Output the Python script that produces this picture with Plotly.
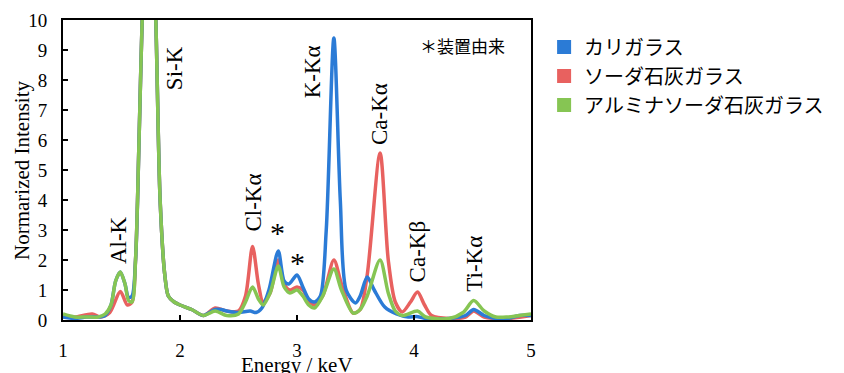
import plotly.graph_objects as go

# Energy (keV) and normalized intensity
kali_x = [1.0, 1.1, 1.2, 1.3, 1.36, 1.41, 1.45, 1.49, 1.53, 1.56, 1.59, 1.62, 1.65, 1.68, 1.735, 1.79, 1.83, 1.87, 1.9, 1.95, 2.0, 2.1, 2.2, 2.3, 2.35, 2.4, 2.5, 2.6, 2.65, 2.7, 2.76, 2.84, 2.89, 2.93, 3.0, 3.05, 3.1, 3.15, 3.2, 3.25, 3.315, 3.37, 3.42, 3.5, 3.54, 3.6, 3.66, 3.75, 3.85, 3.95, 4.02, 4.1, 4.3, 4.44, 4.51, 4.6, 4.7, 4.8, 4.9, 5.0]
kali_y = [0.1, 0.05, 0.1, 0.1, 0.15, 0.5, 1.3, 1.6, 1.2, 0.75, 0.8, 2.0, 6.0, 10.5, 16.0, 10.5, 4.0, 1.5, 0.8, 0.6, 0.5, 0.35, 0.15, 0.35, 0.35, 0.3, 0.25, 0.3, 0.25, 0.4, 1.0, 2.3, 1.3, 1.2, 1.5, 1.1, 0.7, 0.6, 0.8, 3.0, 9.4, 4.0, 1.0, 0.57, 0.8, 1.43, 1.0, 0.43, 0.2, 0.1, 0.12, 0.05, 0.05, 0.15, 0.35, 0.15, 0.05, 0.05, 0.15, 0.15]

soda_x = [1.0, 1.1, 1.25, 1.32, 1.4, 1.49, 1.55, 1.59, 1.62, 1.65, 1.68, 1.735, 1.79, 1.83, 1.87, 1.9, 1.95, 2.0, 2.1, 2.2, 2.3, 2.4, 2.5, 2.56, 2.62, 2.67, 2.71, 2.77, 2.84, 2.89, 2.94, 3.0, 3.05, 3.1, 3.15, 3.22, 3.315, 3.38, 3.48, 3.54, 3.6, 3.71, 3.78, 3.84, 3.9, 3.97, 4.03, 4.09, 4.15, 4.3, 4.44, 4.51, 4.6, 4.8, 5.0]
soda_y = [0.1, 0.1, 0.2, 0.1, 0.25, 0.95, 0.5, 0.6, 2.0, 6.0, 10.5, 16.0, 10.5, 4.0, 1.5, 0.8, 0.6, 0.5, 0.35, 0.15, 0.4, 0.3, 0.3, 0.8, 2.45, 1.2, 0.6, 0.9, 2.0, 1.2, 1.0, 1.1, 1.0, 0.65, 0.5, 0.8, 2.0, 1.2, 0.23, 0.35, 1.5, 5.57, 2.0, 0.6, 0.27, 0.6, 0.93, 0.5, 0.15, 0.05, 0.1, 0.3, 0.1, 0.05, 0.15]

alumina_x = [1.0, 1.1, 1.2, 1.3, 1.36, 1.41, 1.45, 1.49, 1.53, 1.56, 1.59, 1.62, 1.65, 1.68, 1.735, 1.79, 1.83, 1.87, 1.9, 1.95, 2.0, 2.1, 2.2, 2.3, 2.4, 2.5, 2.56, 2.62, 2.67, 2.71, 2.77, 2.84, 2.89, 2.94, 3.0, 3.05, 3.1, 3.15, 3.22, 3.315, 3.38, 3.48, 3.54, 3.6, 3.71, 3.78, 3.84, 3.9, 4.03, 4.1, 4.3, 4.42, 4.51, 4.6, 4.7, 4.8, 4.9, 5.0]
alumina_y = [0.2, 0.1, 0.1, 0.1, 0.2, 0.5, 1.3, 1.6, 1.2, 0.65, 0.6, 2.0, 6.0, 10.5, 16.0, 10.5, 4.0, 1.5, 0.8, 0.6, 0.5, 0.35, 0.15, 0.3, 0.15, 0.2, 0.6, 1.1, 0.7, 0.5, 0.9, 1.8, 1.1, 0.9, 1.0, 0.8, 0.5, 0.4, 0.8, 1.7, 1.0, 0.23, 0.35, 0.8, 2.0, 0.9, 0.3, 0.15, 0.3, 0.1, 0.05, 0.25, 0.65, 0.3, 0.1, 0.1, 0.15, 0.2]

series_names = ["カリガラス", "ソーダ石灰ガラス", "アルミナソーダ石灰ガラス"]
series_colors = ["#2B7BD6", "#E8615F", "#86C553"]

x_ticks = [1, 2, 3, 4, 5]
y_ticks = list(range(0, 11))

peak_labels = ["Al-K", "Si-K", "Cl-Kα", "K-Kα", "Ca-Kα", "Ca-Kβ", "Ti-Kα"]
peak_label_x = [1.48, 1.95, 2.62, 3.14, 3.71, 4.03, 4.52]
peak_label_y = [2.67, 8.4, 3.9, 8.27, 6.87, 2.27, 1.87]
star_x = [2.83, 3.0]
star_y = [2.93, 1.93]

fig = go.Figure()
order = [(soda_x, soda_y, 1), (kali_x, kali_y, 0), (alumina_x, alumina_y, 2)]
for xs, ys, i in order:
    fig.add_trace(go.Scatter(x=xs, y=ys, mode="lines",
                             line=dict(color=series_colors[i], width=3.5, shape="spline", smoothing=0.8),
                             showlegend=False, hoverinfo="skip"))
for i in range(3):
    fig.add_trace(go.Scatter(x=[None], y=[None], mode="markers", name=series_names[i],
                             marker=dict(symbol="square", size=14, color=series_colors[i])))

serif = "Liberation Serif, Times New Roman, serif"
for t, x, y in zip(peak_labels, peak_label_x, peak_label_y):
    fig.add_annotation(x=x, y=y, text=t, textangle=-90, showarrow=False, xanchor="center", yanchor="middle",
                       font=dict(family=serif, size=23, color="black"))
for x, y in zip(star_x, star_y):
    fig.add_annotation(x=x, y=y, text="*", showarrow=False,
                       font=dict(family=serif, size=30, color="black"))
fig.add_annotation(x=(507 - 63) / 468, y=(320 - 45) / 300, xref="paper", yref="paper", text="＊装置由来",
                   showarrow=False, xanchor="right", yanchor="middle",
                   font=dict(family="Noto Sans CJK JP", size=17, color="black"))
# axis titles
fig.add_annotation(x=0.5, y=(320 - 365) / 300, xref="paper", yref="paper", text="Energy / keV",
                   showarrow=False, xanchor="center", yanchor="middle",
                   font=dict(family=serif, size=21, color="black"))
fig.add_annotation(x=(22 - 63) / 468, y=0.5, xref="paper", yref="paper", text="Normarized Intensity",
                   showarrow=False, xanchor="center", yanchor="middle", textangle=-90,
                   font=dict(family=serif, size=21, color="black"))

fig.update_layout(
    width=844, height=373,
    margin=dict(l=63, r=313, t=20, b=53, autoexpand=False),
    paper_bgcolor="white", plot_bgcolor="white",
    font=dict(family=serif, size=19, color="black"),
    legend=dict(x=1.028, y=0.975, xanchor="left", yanchor="top",
                font=dict(family="Noto Sans CJK JP", size=20, color="black"),
                itemwidth=30, tracegroupgap=0, bgcolor="rgba(0,0,0,0)"),
    xaxis=dict(range=[1, 5], tickvals=x_ticks, ticks="inside", ticklen=5, tickwidth=1.5, tickcolor="black",
               showline=True, linecolor="black", linewidth=2, mirror=True, showgrid=False, zeroline=False,
               ticklabelstandoff=12, automargin=False, tickfont=dict(size=19)),
    yaxis=dict(range=[0, 10], tickvals=y_ticks, ticks="inside", ticklen=5, tickwidth=1.5, tickcolor="black",
               showline=True, linecolor="black", linewidth=2, mirror=True, showgrid=False, zeroline=False,
               ticklabelstandoff=10, automargin=False, tickfont=dict(size=19)),
)

fig.write_html("out.html")
